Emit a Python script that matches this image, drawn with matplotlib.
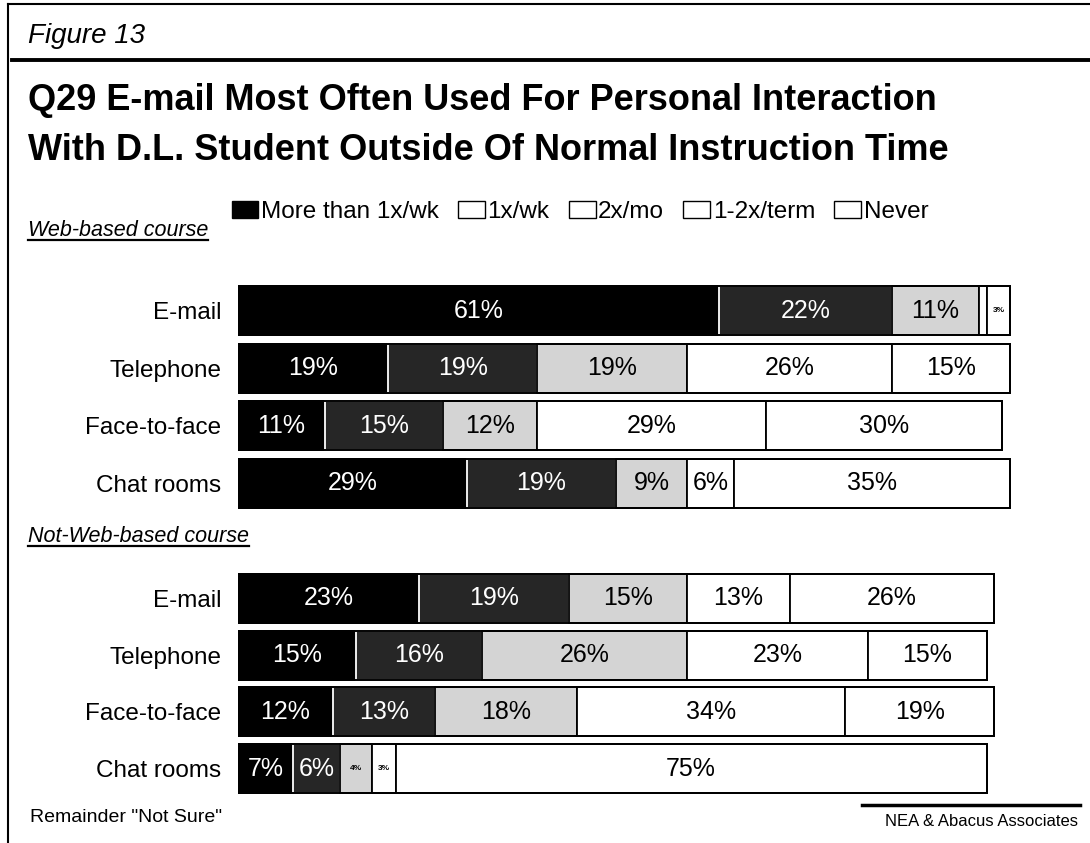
import matplotlib
matplotlib.use("Agg")
import matplotlib.pyplot as plt
from matplotlib.lines import Line2D
from matplotlib.patches import Patch

plt.rcParams['font.family'] = ['Liberation Sans', 'DejaVu Sans']

categories = ["E-mail", "Telephone", "Face-to-face", "Chat rooms"]
series = ["More than 1x/wk", "1x/wk", "2x/mo", "1-2x/term", "Never"]

# one list per answer, values for E-mail, Telephone, Face-to-face, Chat rooms
web_more = [61, 19, 11, 29]
web_1wk = [22, 19, 15, 19]
web_2mo = [11, 19, 12, 9]
web_term = [1, 26, 29, 6]
web_never = [3, 15, 30, 35]

nonweb_more = [23, 15, 12, 7]
nonweb_1wk = [19, 16, 13, 6]
nonweb_2mo = [15, 26, 18, 4]
nonweb_term = [13, 23, 34, 3]
nonweb_never = [26, 15, 19, 75]

colors = ["#000000", "#262626", "#d4d4d4", "#ffffff", "#ffffff"]
text_colors = ["white", "white", "black", "black", "black"]

W, H = 1090, 843
fig = plt.figure(figsize=(W / 100, H / 100), dpi=100)


def fx(px):
    return px / W


def fy(py):
    return 1 - py / H


def draw_group(ax, groups, height):
    y = range(len(categories))
    left = [0] * len(categories)
    for k, (vals, c, tc) in enumerate(zip(groups, colors, text_colors)):
        ax.barh(y, vals, left=left, height=height, color=c,
                edgecolor="white" if k == 1 else "black", linewidth=1.3)
        for i, v in enumerate(vals):
            if v <= 1:
                continue
            small = v < 5
            ax.text(left[i] + v / 2, i, f"{v}%", ha="center", va="center",
                    color=tc, fontsize=6 if small else 18,
                    weight="bold" if small else "normal")
        left = [l + v for l, v in zip(left, vals)]
    # outline each whole bar in black
    ax.barh(y, left, height=height, color="none", edgecolor="black", linewidth=1.4)
    ax.set_xlim(0, 100)
    ax.set_ylim(len(categories) - 0.5, -0.5)
    ax.set_yticks(list(y))
    ax.set_yticklabels(categories, fontsize=17.5)
    ax.tick_params(axis="y", length=0, pad=12)
    ax.set_xticks([])
    for s in ax.spines.values():
        s.set_visible(False)


ax_web = fig.add_axes([fx(238), fy(512), fx(788), (512 - 282) / H])
draw_group(ax_web, [web_more, web_1wk, web_2mo, web_term, web_never], 0.86)

ax_non = fig.add_axes([fx(238), fy(797), fx(788), (797 - 570) / H])
draw_group(ax_non, [nonweb_more, nonweb_1wk, nonweb_2mo, nonweb_term, nonweb_never], 0.86)

# frame lines of the page
fig.add_artist(Line2D([fx(8), 1], [fy(4), fy(4)], color="black", lw=1.5))
fig.add_artist(Line2D([fx(8), fx(8)], [fy(4), 0], color="black", lw=1.5))
fig.add_artist(Line2D([fx(12), 1], [fy(60), fy(60)], color="black", lw=2.8))

fig.text(fx(28), fy(36), "Figure 13", fontsize=20, style="italic", va="center")
fig.text(fx(28), fy(101), "Q29 E-mail Most Often Used For Personal Interaction",
         fontsize=26, weight="bold", va="center")
fig.text(fx(28), fy(150), "With D.L. Student Outside Of Normal Instruction Time",
         fontsize=26, weight="bold", va="center")

# legend: first box solid, the rest shown as open boxes
handles = [Patch(facecolor="black", edgecolor="black")] + \
          [Patch(facecolor="white", edgecolor="black", lw=1) for _ in series[1:]]
fig.legend(handles, series, loc="center", bbox_to_anchor=(fx(580), fy(212)),
           ncol=5, frameon=False, fontsize=17.5, handlelength=1.1, handleheight=0.7,
           handletextpad=0.1, columnspacing=0.8, borderpad=0)

heads = [
    fig.text(fx(28), fy(231), "Web-based course", fontsize=15.5, style="italic", va="center"),
    fig.text(fx(28), fy(537), "Not-Web-based course", fontsize=15.5, style="italic", va="center"),
]

fig.text(fx(30), fy(817), 'Remainder "Not Sure"', fontsize=14, va="center")
fig.text(fx(1078), fy(822), "NEA & Abacus Associates", fontsize=12, ha="right", va="center")
fig.add_artist(Line2D([fx(862), fx(1080)], [fy(805), fy(805)], color="black", lw=2.5))

# underline the section headings
fig.canvas.draw()
r = fig.canvas.get_renderer()
for t in heads:
    bb = t.get_window_extent(renderer=r).transformed(fig.transFigure.inverted())
    fig.add_artist(Line2D([bb.x0, bb.x1], [bb.y0 + 0.002, bb.y0 + 0.002], color="black", lw=1.6))

fig.savefig("out.png", dpi=100)
